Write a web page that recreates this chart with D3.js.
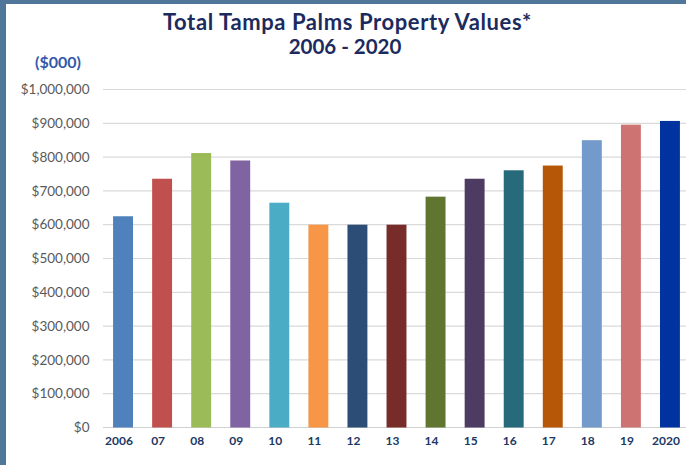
<!DOCTYPE html>
<html>
<head>
<meta charset="utf-8">
<script src="https://cdn.jsdelivr.net/npm/d3@7"></script>
<style>
  html, body { margin: 0; padding: 0; background: #ffffff; }
  svg { display: block; }
</style>
</head>
<body>
<svg id="chart" width="686" height="465"></svg>
<script>
// ---- data ----
const titleLines = ["Total Tampa Palms Property Values*", "2006 - 2020"];
const unitLabel = "($000)";
const years = ["2006","07","08","09","10","11","12","13","14","15","16","17","18","19","2020"];
const values = [625000, 736000, 812000, 790000, 665000, 600000, 600000, 600000, 683000, 736000, 761000, 775000, 850000, 896000, 907000];
const barColors = ["#4f81bd","#c0504d","#9bbb59","#8064a2","#4bacc6","#f79646","#2c4d75","#772c2a","#5f7530","#4d3b62","#276a7c","#b65708","#729aca","#cd7371","#0033a0"];
const yTicks = [0,100000,200000,300000,400000,500000,600000,700000,800000,900000,1000000];

// ---- layout ----
const W = 686, H = 465;
const svg = d3.select("#chart");

// frame
svg.append("rect").attr("x",0).attr("y",0).attr("width",W).attr("height",H).attr("fill","#ffffff");
svg.append("rect").attr("x",0).attr("y",0).attr("width",W).attr("height",4).attr("fill","#50769a");
svg.append("rect").attr("x",0).attr("y",0).attr("width",6).attr("height",H).attr("fill","#50769a");

const x = d3.scaleBand().domain(years).range([103.5, 689.5]).paddingInner(0.49).paddingOuter(0.245);
const y = d3.scaleLinear().domain([0, 1000000]).range([427.5, 89.5]);

// gridlines
svg.append("g").selectAll("line").data(yTicks).join("line")
  .attr("x1", 103).attr("x2", W)
  .attr("y1", d => y(d)).attr("y2", d => y(d))
  .attr("stroke", d => d === 0 ? "#d0d0d0" : "#dadada")
  .attr("stroke-width", 1.2);

// y axis labels
const fmt = d3.format(",");
svg.append("g").selectAll("text").data(yTicks).join("text")
  .attr("x", 89.5).attr("y", d => y(d))
  .attr("dy", "0.35em")
  .attr("text-anchor", "end")
  .attr("font-family", "Lato, sans-serif")
  .attr("font-size", 13.5)
  .attr("fill", "#595959")
  .text(d => "$" + fmt(d));

// bars
svg.append("g").selectAll("rect").data(years).join("rect")
  .attr("x", d => x(d))
  .attr("width", x.bandwidth())
  .attr("y", (d,i) => y(values[i]))
  .attr("height", (d,i) => y(0) - y(values[i]))
  .attr("fill", (d,i) => barColors[i]);

// x labels
svg.append("g").selectAll("text").data(years).join("text")
  .attr("x", d => x(d) + x.bandwidth()/2 - 4)
  .attr("y", 445)
  .attr("text-anchor", "middle")
  .attr("font-family", "Lato, sans-serif")
  .attr("font-weight", "bold")
  .attr("font-size", 12)
  .attr("fill", "#203864")
  .text(d => d);

// title
svg.append("text").attr("x", 347.5).attr("y", 30)
  .attr("text-anchor","middle")
  .attr("font-family","Lato, sans-serif").attr("font-weight","bold")
  .attr("font-size", 22).attr("letter-spacing", 0.6).attr("fill","#1c2b5e")
  .text(titleLines[0]);
svg.append("text").attr("x", 345).attr("y", 53.5)
  .attr("text-anchor","middle")
  .attr("font-family","Lato, sans-serif").attr("font-weight","bold")
  .attr("font-size", 20.5).attr("fill","#1c2b5e")
  .text(titleLines[1]);

// unit label
svg.append("text").attr("x", 35).attr("y", 68)
  .attr("font-family","Lato, sans-serif").attr("font-weight","bold")
  .attr("font-size", 16).attr("fill","#3458a8")
  .text(unitLabel);
</script>
</body>
</html>
